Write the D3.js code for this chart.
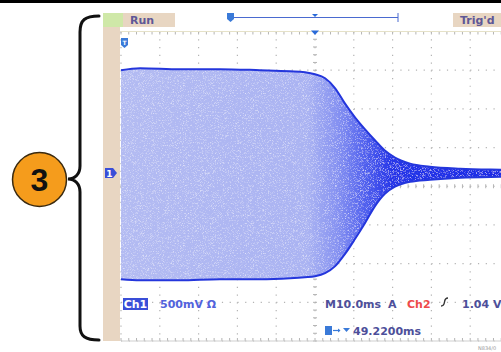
<!DOCTYPE html>
<html><head><meta charset="utf-8">
<script src="https://cdn.jsdelivr.net/npm/d3@7"></script>
<style>html,body{margin:0;padding:0;background:#fff;overflow:hidden}</style>
</head><body>
<svg id="c" width="501" height="352"></svg>
<script>
// ---- data (time in ms relative to trigger, volts relative to screen centre) ----
const envTime  = [-50,-45.1,-34.8,-24.5,-14.2,-6.4,-2.6,0,2.6,5.2,7.7,10.3,12.9,15.5,18.0,20.6,24.5,29.6,37.4,47.9,50];
const envUpper = [1.50,1.526,1.513,1.513,1.50,1.487,1.474,1.448,1.396,1.266,1.071,0.890,0.734,0.591,0.461,0.370,0.292,0.253,0.227,0.214,0.212];
const envLower = [-1.201,-1.214,-1.214,-1.201,-1.201,-1.188,-1.175,-1.162,-1.123,-1.032,-0.877,-0.682,-0.474,-0.253,-0.097,-0.006,0.058,0.084,0.110,0.123,0.125];
const timeTicks = d3.range(-50, 51, 10);      // 10 ms / div
const voltTicks = d3.range(-2, 2.01, 0.5);    // 500 mV / div
const groundLevel = 0.17;                      // ch1 ground marker (V)
const headerLeft = "Run";
const headerRight = "Trig'd";
const ch1Label = "Ch1";
const ch1Scale = "500mV \u03A9";
const timebase = "M10.0ms";
const trigMode = "A";
const trigSource = "Ch2";
const trigLevel = "1.04 V";
const trigPos = "49.2200ms";
const calloutNumber = "3";
const footnote = "N834/0";

const svg = d3.select("#c");
const x = d3.scaleLinear().domain([-50, 50]).range([121, 509]);
const y = d3.scaleLinear().domain([-2, 2]).range([341, 31.5]);
const divX = x(10) - x(0), divY = y(0) - y(0.5);

const TAN = "#e8d6c2";
// top rule
svg.append("rect").attr("x",0).attr("y",0).attr("width",501).attr("height",3).attr("fill","#000");

// left tan bar + header
svg.append("rect").attr("x",103).attr("y",13).attr("width",17).attr("height",328).attr("fill",TAN);
svg.append("rect").attr("x",103).attr("y",13).attr("width",72).attr("height",14).attr("fill",TAN);
svg.append("rect").attr("x",103).attr("y",13).attr("width",20).attr("height",14).attr("fill","#cfe8a8");
svg.append("rect").attr("x",453).attr("y",13).attr("width",48).attr("height",14).attr("fill",TAN);
svg.append("text").attr("x",130).attr("y",24).text(headerLeft)
  .attr("font-family","DejaVu Sans").attr("font-weight","bold").attr("font-size",11).attr("fill","#5e5796");
svg.append("text").attr("x",460).attr("y",24).text(headerRight)
  .attr("font-family","DejaVu Sans").attr("font-weight","bold").attr("font-size",11).attr("fill","#5e5796");

// header record bar
const hb = svg.append("g");
hb.append("line").attr("x1",230).attr("x2",398).attr("y1",17.5).attr("y2",17.5).attr("stroke","#4a6ad0").attr("stroke-width",1);
hb.append("line").attr("x1",398).attr("x2",398).attr("y1",13).attr("y2",22).attr("stroke","#4a6ad0").attr("stroke-width",1);
hb.append("path").attr("d","M227,13h7v6l-3.5,3l-3.5,-3z").attr("fill","#3a7ad8");
hb.append("path").attr("d",`M${x(0)-3},14h6l-3,3z`).attr("fill","#2a6ad8");

// plot area
const plot = svg.append("g");
svg.append("defs").html(`
 <clipPath id="pc"><rect x="120" y="29" width="381" height="313"/></clipPath>
 <linearGradient id="fillg" gradientUnits="userSpaceOnUse" x1="${x(-50)}" x2="${x(50)}" y1="0" y2="0">
   <stop offset="0" stop-color="#b3bbf2"/>
   <stop offset="0.48" stop-color="#aab3f2"/>
   <stop offset="0.56" stop-color="#8490f1"/>
   <stop offset="0.63" stop-color="#5060ee"/>
   <stop offset="0.70" stop-color="#2636e8"/>
   <stop offset="1" stop-color="#1a2ae6"/>
 </linearGradient>
 <filter id="speck" x="0" y="0" width="1" height="1">
   <feTurbulence type="fractalNoise" baseFrequency="1.6" numOctaves="1" seed="7" result="n"/>
   <feColorMatrix in="n" type="matrix" values="0 0 0 0 1  0 0 0 0 1  0 0 0 0 1  -3.2 0 0 0 1.55" result="w"/>
   <feComposite in="w" in2="SourceGraphic" operator="in" result="wm"/>
   <feComponentTransfer in="wm" result="wm2"><feFuncA type="linear" slope="0.55"/></feComponentTransfer>
   <feMerge><feMergeNode in="SourceGraphic"/><feMergeNode in="wm2"/></feMerge>
 </filter>`);
plot.attr("clip-path","url(#pc)");

const GRID = "#b4b4b4";
// dotted grid
plot.selectAll(".vg").data(timeTicks).join("line")
  .attr("x1",d=>x(d)).attr("x2",d=>x(d)).attr("y1",y(2)).attr("y2",y(-2))
  .attr("stroke",GRID).attr("stroke-width",1.2).attr("stroke-dasharray",`1.2,${divY/5-1.2}`);
plot.selectAll(".hg").data(voltTicks).join("line")
  .attr("y1",d=>y(d)).attr("y2",d=>y(d)).attr("x1",x(-50)).attr("x2",x(50))
  .attr("stroke",GRID).attr("stroke-width",1.2).attr("stroke-dasharray",`1.2,${divX/5-1.2}`);
// minor ticks on centre lines and edges
const minorT = d3.range(-50, 50.01, 2);
const minorV = d3.range(-2, 2.001, 0.1);
plot.selectAll(".mt").data(minorT).join("line")
  .attr("x1",d=>x(d)).attr("x2",d=>x(d)).attr("y1",y(0)-2).attr("y2",y(0)+2).attr("stroke",GRID);
plot.selectAll(".mtt").data(minorT).join("line")
  .attr("x1",d=>x(d)).attr("x2",d=>x(d)).attr("y1",y(2)).attr("y2",y(2)+3).attr("stroke",GRID);
plot.selectAll(".mtb").data(minorT).join("line")
  .attr("x1",d=>x(d)).attr("x2",d=>x(d)).attr("y1",y(-2)).attr("y2",y(-2)-3).attr("stroke",GRID);
plot.selectAll(".mv").data(minorV).join("line")
  .attr("y1",d=>y(d)).attr("y2",d=>y(d)).attr("x1",x(0)-2).attr("x2",x(0)+2).attr("stroke",GRID);
plot.append("line").attr("x1",x(-50)).attr("x2",x(50)).attr("y1",y(2)).attr("y2",y(2)).attr("stroke","#e6e2c8");
plot.append("line").attr("x1",x(-50)).attr("x2",x(50)).attr("y1",y(-2)).attr("y2",y(-2)).attr("stroke","#cfcfcf");

// waveform envelope
const env = envTime.map((t,i)=>({t, hi:envUpper[i], lo:envLower[i]}));
const area = d3.area().x(d=>x(d.t)).y0(d=>y(d.lo)).y1(d=>y(d.hi)).curve(d3.curveMonotoneX);
plot.append("path").datum(env).attr("d",area).attr("fill","url(#fillg)").attr("filter","url(#speck)");
const lineHi = d3.line().x(d=>x(d.t)).y(d=>y(d.hi)).curve(d3.curveMonotoneX);
const lineLo = d3.line().x(d=>x(d.t)).y(d=>y(d.lo)).curve(d3.curveMonotoneX);
plot.append("path").datum(env).attr("d",lineHi).attr("fill","none").attr("stroke","#2436dc").attr("stroke-width",2);
plot.append("path").datum(env).attr("d",lineLo).attr("fill","none").attr("stroke","#2436dc").attr("stroke-width",2);

// trigger marker at top
svg.append("path").attr("d",`M${x(0)-4},${y(2)-1}h8l-4,4.5z`).attr("fill","#2a6ad8");
// trigger level marker (small blue shield)
svg.append("path").attr("d","M121,38h7v7l-3.5,3l-3.5,-3z").attr("fill","#3a7ad8");
svg.append("text").attr("x",124.5).attr("y",45).attr("text-anchor","middle").text("T")
  .attr("font-family","DejaVu Sans").attr("font-size",6).attr("font-weight","bold").attr("fill","#fff");
// ground marker
const gy = y(groundLevel);
svg.append("path").attr("d",`M105,${gy-5}h8l4,5l-4,5h-8z`).attr("fill","#3a4ed8");
svg.append("text").attr("x",109.5).attr("y",gy+3.5).attr("text-anchor","middle").text("1")
  .attr("font-family","DejaVu Sans").attr("font-size",9).attr("font-weight","bold").attr("fill","#fff");

// readouts
const F = "DejaVu Sans";
svg.append("rect").attr("x",123).attr("y",298).attr("width",25).attr("height",12).attr("fill","#3a4ed8");
svg.append("text").attr("x",135.5).attr("y",308).attr("text-anchor","middle").text(ch1Label)
  .attr("font-family",F).attr("font-size",11).attr("font-weight","bold").attr("fill","#fff");
svg.append("text").attr("x",160).attr("y",308).text(ch1Scale)
  .attr("font-family",F).attr("font-size",11).attr("font-weight","bold").attr("fill","#5262dc");
const r = svg.append("text").attr("x",325).attr("y",308).attr("font-family",F).attr("font-size",11).attr("font-weight","bold").attr("fill","#4d4f9a");
r.append("tspan").text(timebase);
r.append("tspan").attr("x",388).text(trigMode);
r.append("tspan").attr("x",407).attr("fill","#ee4a4a").text(trigSource);
r.append("tspan").attr("x",462).text(trigLevel);
svg.append("path").attr("d","M441,306q3,0 3.5,-4t3.5,-4").attr("fill","none").attr("stroke","#333").attr("stroke-width",1.4);
// trigger position readout
svg.append("rect").attr("x",325).attr("y",326).attr("width",7).attr("height",9).attr("fill","#3a7ad8");
svg.append("line").attr("x1",333).attr("x2",340).attr("y1",330.5).attr("y2",330.5).attr("stroke","#3a7ad8").attr("stroke-width",1.2);
svg.append("path").attr("d","M338,328.5l2.5,2l-2.5,2z").attr("fill","#3a7ad8");
svg.append("path").attr("d","M343,328h7l-3.5,4z").attr("fill","#3a7ad8");
svg.append("text").attr("x",353).attr("y",335).text(trigPos)
  .attr("font-family",F).attr("font-size",11).attr("font-weight","bold").attr("fill","#4d4f9a");
svg.append("text").attr("x",478).attr("y",350).text(footnote)
  .attr("font-family",F).attr("font-size",5).attr("fill","#999");

// callout brace and number
svg.append("path").attr("d","M99,16C85,16 80,20 80,32V166C80,174 75,179 68,179C75,179 80,184 80,192V326C80,336 85,340 99,340")
  .attr("fill","none").attr("stroke","#111").attr("stroke-width",3).attr("stroke-linecap","round");
svg.append("circle").attr("cx",39.5).attr("cy",179.5).attr("r",27).attr("fill","#f59c1c").attr("stroke","#3a2a10").attr("stroke-width",1.5);
svg.append("text").attr("x",39.5).attr("y",191).attr("text-anchor","middle").text(calloutNumber)
  .attr("font-family","Liberation Sans, Arial").attr("font-size",32).attr("font-weight","bold").attr("fill","#111");
</script>
</body></html>
